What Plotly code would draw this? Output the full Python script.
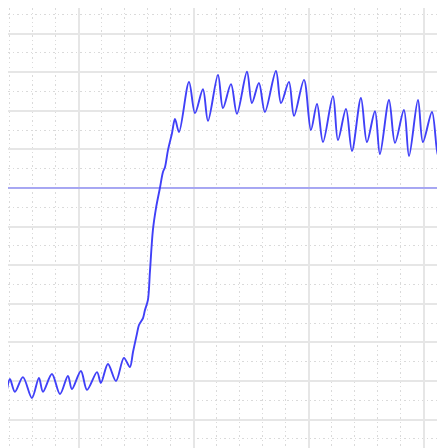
import plotly.graph_objects as go

# time in units (10 units per major division), signal in volts (1 V per major division)
t = [-6.26, -6.00, -5.57, -4.87, -4.09, -3.48, -3.13, -2.35, -1.65, -0.96, -0.61, 0.17, 0.70,
     1.57, 1.91, 2.52, 3.22, 3.91, 4.43, 4.70, 5.04, 5.22, 5.57, 5.74, 6.00, 6.17, 6.43, 6.70,
     7.04, 7.30, 7.48, 7.74, 8.09, 8.35, 8.70, 9.57, 10.09, 10.78, 11.22, 12.09, 12.52, 13.22,
     13.74, 14.61, 15.04, 15.65, 16.17, 17.13, 17.57, 18.26, 18.70, 19.57, 20.17, 20.70, 21.22,
     22.09, 22.52, 23.22, 23.74, 24.52, 25.04, 25.74, 26.17, 26.96, 27.48, 28.26, 28.70, 29.48,
     29.91, 30.70, 31.22, 31.83, 32.3]
v = [-5.23, -4.95, -5.28, -4.90, -5.44, -4.92, -5.28, -4.82, -5.34, -4.87, -5.21, -4.74, -5.23,
     -4.77, -5.05, -4.56, -5.00, -4.40, -4.64, -4.25, -3.78, -3.55, -3.37, -3.16, -2.90, -2.18,
     -1.09, -0.52, 0.00, 0.41, 0.54, 0.98, 1.42, 1.79, 1.45, 2.75, 1.94, 2.56, 1.74, 2.93, 2.07,
     2.69, 1.92, 3.01, 2.20, 2.72, 1.97, 3.03, 2.20, 2.75, 1.87, 2.80, 1.50, 2.18, 1.19, 2.38,
     1.24, 2.05, 0.96, 2.33, 1.19, 1.99, 0.88, 2.28, 1.17, 2.02, 0.83, 2.28, 1.19, 1.97, 0.83,
     2.07, 2.30]

# reference (trigger) level
ref_t = [-7, 40]
ref_v = [0.0, 0.0]

W, H = 460, 460
x_left = -6.17
y_top = 4.663

fig = go.Figure()
fig.add_trace(go.Scatter(x=ref_t, y=ref_v, mode="lines",
                         line=dict(color="#6a6aff", width=1), hoverinfo="skip"))
fig.add_trace(go.Scatter(x=t, y=v, mode="lines",
                         line=dict(color="#4040f8", width=1.9, shape="spline", smoothing=0.9),
                         hoverinfo="skip"))

grid_major = "#e6e6e6"
grid_minor = "#dadada"
fig.update_layout(
    width=W, height=H,
    margin=dict(l=0, r=0, t=0, b=0, pad=0),
    paper_bgcolor="white", plot_bgcolor="white",
    showlegend=False,
    xaxis=dict(range=[x_left, x_left + W / 11.5], tick0=0, dtick=10,
               showgrid=True, gridcolor=grid_major, gridwidth=1.5,
               zeroline=False, showticklabels=False, ticks="", showline=False,
               minor=dict(dtick=2, showgrid=True, gridcolor=grid_minor,
                          griddash="1.5px,3px", gridwidth=1.2)),
    yaxis=dict(range=[y_top - H / 38.6, y_top], tick0=0, dtick=1,
               showgrid=True, gridcolor=grid_major, gridwidth=1.5,
               zeroline=False, showticklabels=False, ticks="", showline=False,
               minor=dict(dtick=0.5, showgrid=True, gridcolor=grid_minor,
                          griddash="1.5px,3px", gridwidth=1.2)),
)

fig.write_html("out.html")
